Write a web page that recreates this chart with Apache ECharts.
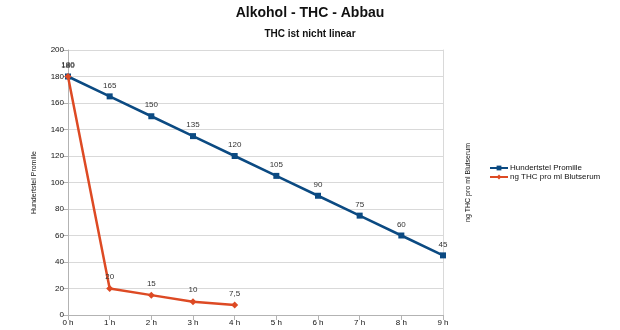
<!DOCTYPE html>
<html><head><meta charset="utf-8">
<script src="https://cdn.jsdelivr.net/npm/echarts@6/dist/echarts.min.js"></script>
<style>html,body{margin:0;padding:0;background:#fff}#c{width:620px;height:330px}</style>
</head><body><div id="c"></div>
<script>
const categories = ['0 h','1 h','2 h','3 h','4 h','5 h','6 h','7 h','8 h','9 h'];
const alkohol = [180,165,150,135,120,105,90,75,60,45];
const thc = [180,20,15,10,7.5,null,null,null,null,null];
const seriesNames = ['Hundertstel Promille','ng THC pro ml Blutserum'];

const chart = echarts.init(document.getElementById('c'));
const lbl = {show:true, position:'top', fontSize:8, color:'#333', fontFamily:'Liberation Sans', distance:4,
  formatter: p => String(p.value).replace('.', ',')};
chart.setOption({
  animation:false,
  textStyle:{fontFamily:'Liberation Sans'},
  title:[
    {text:'Alkohol - THC - Abbau', left:'center', top:1, textStyle:{fontSize:14, fontWeight:'bold', color:'#111', fontFamily:'Liberation Sans'}},
    {text:'THC ist nicht linear', left:'center', top:24, textStyle:{fontSize:10, fontWeight:'bold', color:'#111', fontFamily:'Liberation Sans'}}
  ],
  legend:{data:seriesNames, orient:'vertical', left:484, top:159, itemWidth:18, itemHeight:6, itemGap:1,
    textStyle:{fontSize:8, color:'#111', padding:[0,0,0,-3]}},
  grid:{left:68, right:177, top:50, bottom:15, containLabel:false},
  xAxis:{type:'category', data:categories, boundaryGap:false,
    axisLine:{lineStyle:{color:'#b3b3b3'}}, axisTick:{show:true, lineStyle:{color:'#b3b3b3'}},
    axisLabel:{fontSize:8, color:'#111', margin:4},
    splitLine:{show:false}},
  yAxis:[
    {type:'value', min:0, max:200, interval:20, name:'Hundertstel Promille', nameLocation:'middle', nameGap:30,
      nameTextStyle:{fontSize:7, color:'#111', padding:[0,0,0,0]},
      axisLine:{show:true, lineStyle:{color:'#b3b3b3'}}, axisTick:{show:true, lineStyle:{color:'#b3b3b3'}},
      axisLabel:{fontSize:8, color:'#111', margin:4},
      splitLine:{lineStyle:{color:'#d9d9d9'}}},
    {type:'value', min:0, max:200, interval:20, position:'right', name:'ng THC pro ml Blutserum', nameLocation:'middle', nameGap:22, nameRotate:90,
      nameTextStyle:{fontSize:7, color:'#111'},
      axisLine:{show:true, lineStyle:{color:'#d9d9d9'}}, axisTick:{show:false}, axisLabel:{show:false}, splitLine:{show:false}}
  ],
  series:[
    {name:seriesNames[0], type:'line', data:alkohol, color:'#0b4a82', symbol:'rect', symbolSize:6,
      lineStyle:{width:2.5}, label:lbl, z:2},
    {name:seriesNames[1], type:'line', data:thc, color:'#dd4a24', symbol:'diamond', symbolSize:7,
      lineStyle:{width:2.5}, label:lbl, z:3}
  ]
});
</script></body></html>
